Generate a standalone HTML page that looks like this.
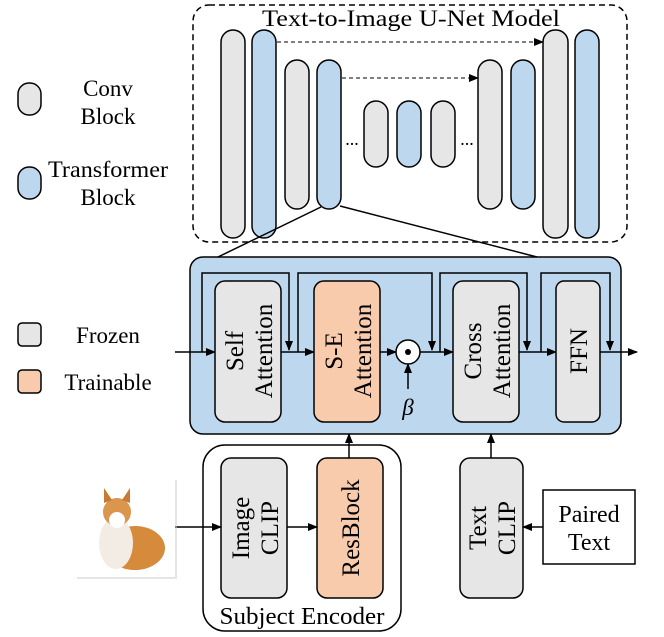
<!DOCTYPE html>
<html><head><meta charset="utf-8"><style>
body{margin:0;background:#fff;}
svg{display:block;font-family:"Liberation Serif",serif;}
</style></head><body>
<svg width="664" height="637" viewBox="0 0 664 637" xmlns="http://www.w3.org/2000/svg">
<defs>
<marker id="a" markerWidth="10" markerHeight="10" refX="9" refY="5" orient="auto" markerUnits="userSpaceOnUse"><path d="M0,1 L10,5 L0,9 z" fill="#000"/></marker>
</defs>
<!-- legend -->
<rect x="18" y="83" width="23" height="32" rx="11" fill="#e6e6e6" stroke="#000" stroke-width="1.5"/>
<text x="108" y="96" font-size="23" text-anchor="middle">Conv</text>
<text x="108" y="124" font-size="23" text-anchor="middle">Block</text>
<rect x="18" y="167" width="23" height="32" rx="11" fill="#bdd7ee" stroke="#000" stroke-width="1.5"/>
<text x="108" y="177" font-size="23" text-anchor="middle" textLength="120" lengthAdjust="spacingAndGlyphs">Transformer</text>
<text x="108" y="205" font-size="23" text-anchor="middle">Block</text>
<rect x="18" y="323" width="23" height="23" rx="4" fill="#e6e6e6" stroke="#000" stroke-width="1.5"/>
<text x="108" y="343" font-size="23" text-anchor="middle">Frozen</text>
<rect x="18" y="370" width="23" height="23" rx="4" fill="#f8cbad" stroke="#000" stroke-width="1.5"/>
<text x="108" y="390" font-size="23" text-anchor="middle">Trainable</text>

<!-- unet -->
<rect x="193" y="5" width="434" height="237" rx="16" fill="none" stroke="#000" stroke-width="1.5" stroke-dasharray="6,4"/>
<text x="262" y="26" font-size="23" textLength="298" lengthAdjust="spacingAndGlyphs">Text-to-Image U-Net Model</text>
<g stroke="#000" stroke-width="1.5">
<rect x="221" y="30" width="24" height="208" rx="12" fill="#e6e6e6"/>
<rect x="252" y="30" width="24" height="208" rx="12" fill="#bdd7ee"/>
<rect x="285" y="60" width="24" height="149" rx="12" fill="#e6e6e6"/>
<rect x="317" y="60" width="24" height="149" rx="12" fill="#bdd7ee"/>
<rect x="364" y="101" width="24" height="66" rx="12" fill="#e6e6e6"/>
<rect x="397" y="101" width="24" height="66" rx="12" fill="#bdd7ee"/>
<rect x="431" y="101" width="24" height="66" rx="12" fill="#e6e6e6"/>
<rect x="478" y="60" width="24" height="149" rx="12" fill="#e6e6e6"/>
<rect x="511" y="60" width="24" height="149" rx="12" fill="#bdd7ee"/>
<rect x="543" y="30" width="25" height="208" rx="12" fill="#e6e6e6"/>
<rect x="575" y="30" width="24" height="208" rx="12" fill="#bdd7ee"/>
</g>
<text x="352" y="145" font-size="18" text-anchor="middle">...</text>
<text x="467" y="145" font-size="18" text-anchor="middle">...</text>
<line x1="277" y1="42" x2="543" y2="42" stroke="#000" stroke-width="1" stroke-dasharray="4,3" marker-end="url(#a)"/>
<line x1="342" y1="78" x2="478" y2="78" stroke="#000" stroke-width="1" stroke-dasharray="4,3" marker-end="url(#a)"/>
<line x1="321" y1="207" x2="218" y2="257" stroke="#000" stroke-width="1.5"/>
<line x1="340" y1="206" x2="537" y2="257" stroke="#000" stroke-width="1.5"/>

<!-- transformer block -->
<rect x="190" y="257" width="431" height="177" rx="13" fill="#bdd7ee" stroke="#000" stroke-width="1.5"/>
<g fill="none" stroke="#000" stroke-width="1.5">
<polyline points="202,352 202,273 289,273 289,350" marker-end="url(#a)"/>
<polyline points="298,352 298,273 432,273 432,350" marker-end="url(#a)"/>
<polyline points="440,352 440,273 527,273 527,350" marker-end="url(#a)"/>
<polyline points="541,352 541,273 610,273 610,350" marker-end="url(#a)"/>
<line x1="175" y1="352" x2="215" y2="352" marker-end="url(#a)"/>
<line x1="281" y1="352" x2="314" y2="352" marker-end="url(#a)"/>
<line x1="380" y1="352" x2="396" y2="352" marker-end="url(#a)"/>
<line x1="420" y1="352" x2="453" y2="352" marker-end="url(#a)"/>
<line x1="519" y1="352" x2="556" y2="352" marker-end="url(#a)"/>
<line x1="600" y1="352" x2="637" y2="352" marker-end="url(#a)"/>
<line x1="408" y1="389" x2="408" y2="364" marker-end="url(#a)"/>
</g>
<g stroke="#000" stroke-width="1.5">
<rect x="215" y="281" width="66" height="141" rx="10" fill="#e6e6e6"/>
<rect x="314" y="281" width="66" height="141" rx="10" fill="#f8cbad"/>
<rect x="453" y="281" width="66" height="141" rx="10" fill="#e6e6e6"/>
<rect x="556" y="281" width="44" height="141" rx="8" fill="#e6e6e6"/>
<circle cx="408" cy="352" r="12" fill="#fff"/>
</g>
<circle cx="408" cy="352" r="3" fill="#000"/>
<text x="408" y="415" font-size="23" font-style="italic" text-anchor="middle">β</text>
<g font-size="25" text-anchor="middle">
<text transform="translate(248,351) rotate(-90)"><tspan x="0" y="-5">Self</tspan><tspan x="0" y="24">Attention</tspan></text>
<text transform="translate(347,351) rotate(-90)"><tspan x="0" y="-5">S-E</tspan><tspan x="0" y="24">Attention</tspan></text>
<text transform="translate(486,351) rotate(-90)"><tspan x="0" y="-5">Cross</tspan><tspan x="0" y="24">Attention</tspan></text>
<text transform="translate(578,351) rotate(-90)"><tspan x="0" y="9">FFN</tspan></text>
</g>

<!-- bottom -->
<rect x="203" y="445" width="198" height="186" rx="22" fill="none" stroke="#000" stroke-width="1.5"/>
<text x="302" y="624" font-size="24" text-anchor="middle" textLength="165" lengthAdjust="spacingAndGlyphs">Subject Encoder</text>
<g stroke="#000" stroke-width="1.5">
<rect x="221" y="458" width="66" height="140" rx="10" fill="#e6e6e6"/>
<rect x="317" y="458" width="66" height="140" rx="10" fill="#f8cbad"/>
<rect x="460" y="458" width="63" height="140" rx="10" fill="#e6e6e6"/>
<rect x="543" y="490" width="92" height="74" fill="#fff"/>
</g>
<g fill="none" stroke="#000" stroke-width="1.5">
<line x1="175" y1="527" x2="221" y2="527" marker-end="url(#a)"/>
<line x1="287" y1="527" x2="317" y2="527" marker-end="url(#a)"/>
<line x1="543" y1="527" x2="523" y2="527" marker-end="url(#a)"/>
<line x1="349" y1="458" x2="349" y2="434" marker-end="url(#a)"/>
<line x1="491" y1="458" x2="491" y2="434" marker-end="url(#a)"/>
</g>
<g font-size="25" text-anchor="middle">
<text transform="translate(254,528) rotate(-90)"><tspan x="0" y="-5">Image</tspan><tspan x="0" y="24">CLIP</tspan></text>
<text transform="translate(350,528) rotate(-90)"><tspan x="0" y="9">ResBlock</tspan></text>
<text transform="translate(491,528) rotate(-90)"><tspan x="0" y="-5">Text</tspan><tspan x="0" y="24">CLIP</tspan></text>
<text x="589" y="522" font-size="24">Paired</text>
<text x="589" y="550" font-size="24">Text</text>
</g>
<!-- dog -->
<rect x="77" y="480" width="100" height="99" fill="#ccc" opacity="0.5"/>
<rect x="75" y="478" width="100" height="99" fill="#fff"/>
<ellipse cx="135" cy="548" rx="30" ry="22" fill="#d58a3c"/>
<ellipse cx="116" cy="543" rx="17" ry="26" fill="#f3ece4"/>
<ellipse cx="117" cy="512" rx="14" ry="14" fill="#d9964c"/>
<ellipse cx="117" cy="520" rx="8" ry="8" fill="#fff"/>
<path d="M104,503 L104,488 L112,500 Z M130,503 L130,488 L122,500 Z" fill="#c97a32"/>
</svg>
</body></html>
